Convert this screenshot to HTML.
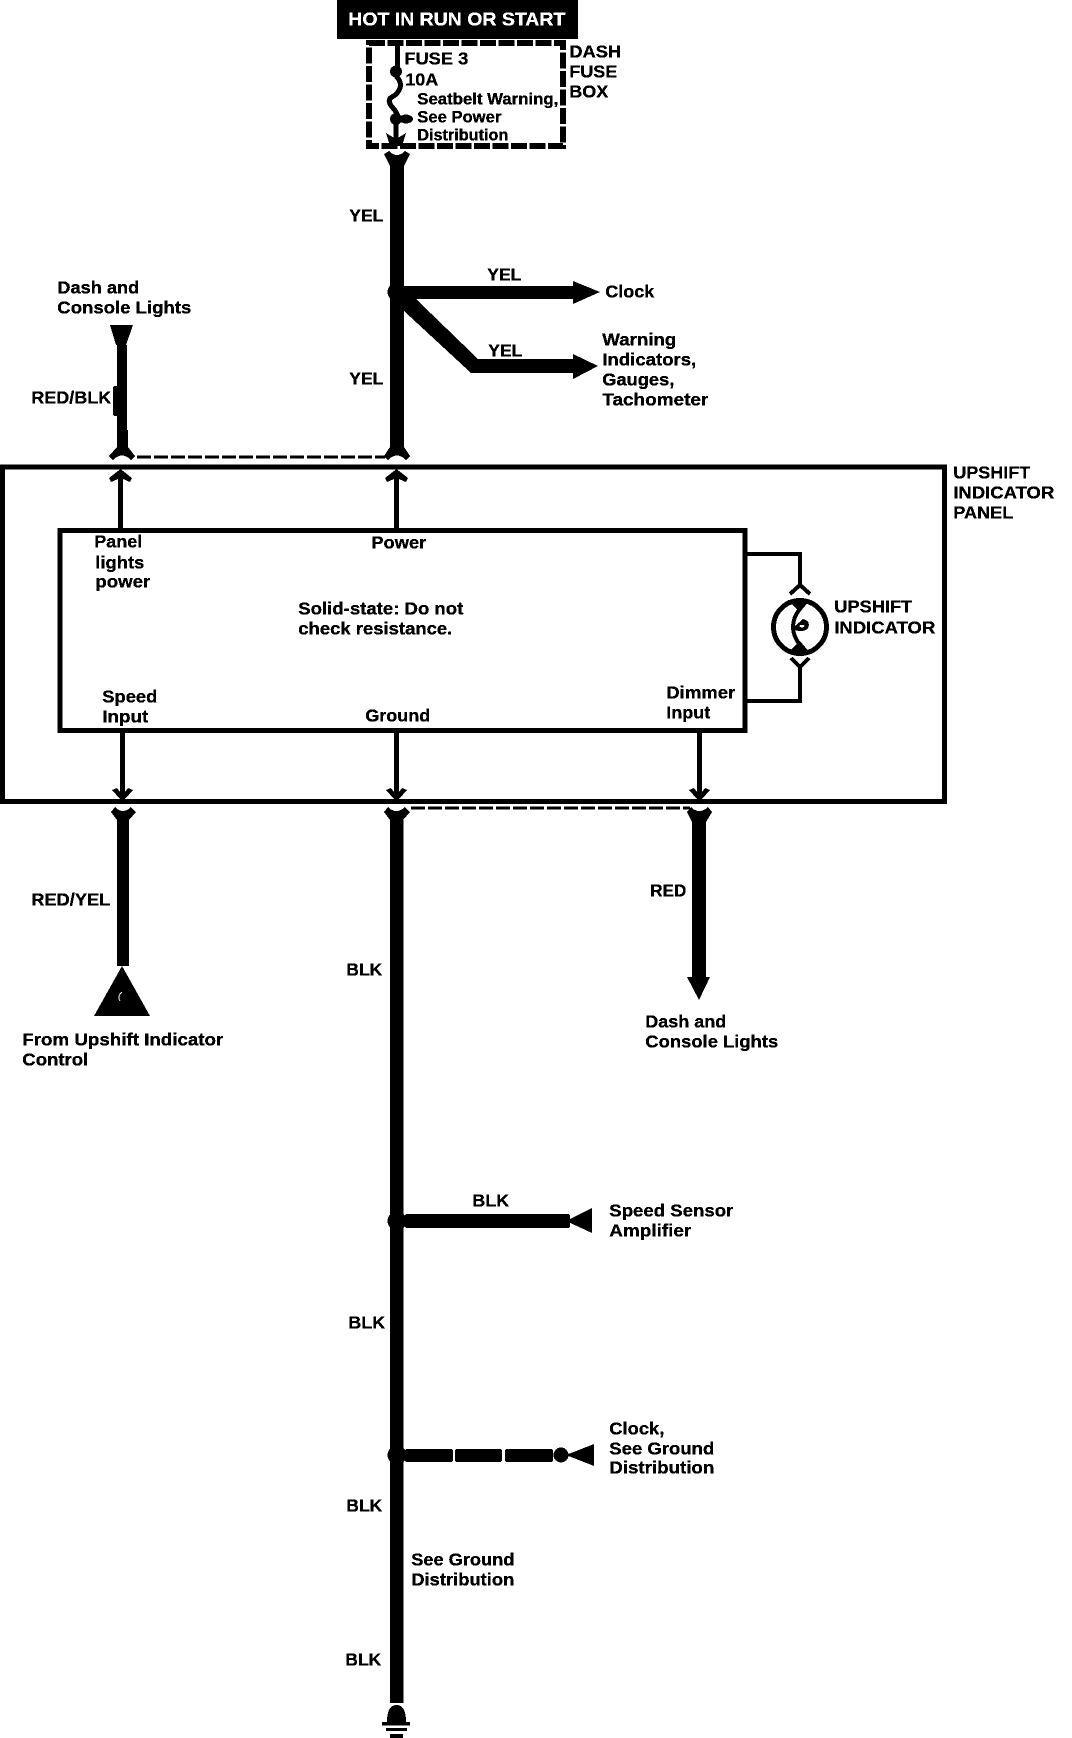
<!DOCTYPE html>
<html>
<head>
<meta charset="utf-8">
<style>
html,body{margin:0;padding:0;background:#fff;}
svg{display:block;}
text{font-family:"Liberation Sans",sans-serif;font-weight:bold;font-size:17.5px;fill:#000;stroke:#000;stroke-width:.25px;transform:translate(-.7px,-.7px);}
.s{font-size:16.5px;}
.w{fill:#fff;stroke:#fff;font-size:18px;}
</style>
</head>
<body>
<svg width="1072" height="1738" viewBox="0 0 1072 1738" xmlns="http://www.w3.org/2000/svg">
<defs>
<filter id="th" x="0" y="0" width="100%" height="100%" color-interpolation-filters="sRGB">
<feComponentTransfer>
<feFuncR type="discrete" tableValues="0 1"/>
<feFuncG type="discrete" tableValues="0 1"/>
<feFuncB type="discrete" tableValues="0 1"/>
</feComponentTransfer>
</filter>
</defs>
<g filter="url(#th)">
<rect width="1072" height="1738" fill="#fff"/>

<!-- header -->
<rect x="337" y="0" width="241" height="39" fill="#000"/>
<text class="w" x="349" y="26" textLength="217" lengthAdjust="spacingAndGlyphs">HOT IN RUN OR START</text>

<!-- fuse box -->
<rect x="369" y="43" width="194" height="103" fill="none" stroke="#000" stroke-width="6" stroke-dasharray="16 2.500"/>
<path d="M397.500 44V72" stroke="#000" stroke-width="5" fill="none"/>
<circle cx="396" cy="71.500" r="6"/>
<path d="M396 76Q402 82 400 88T392 97T393 108T396 118V146" stroke="#000" stroke-width="5" fill="none"/>
<circle cx="396" cy="119" r="6"/>
<ellipse cx="406" cy="119" rx="7" ry="4.500"/>
<path d="M386 133L396 139L406 133L402 146H390Z"/>
<text x="405" y="65" textLength="64" lengthAdjust="spacingAndGlyphs">FUSE 3</text>
<text x="406" y="86" textLength="33" lengthAdjust="spacingAndGlyphs">10A</text>
<text class="s" x="418" y="105" textLength="141" lengthAdjust="spacingAndGlyphs">Seatbelt Warning,</text>
<text class="s" x="418" y="123" textLength="84" lengthAdjust="spacingAndGlyphs">See Power</text>
<text class="s" x="418" y="141" textLength="91" lengthAdjust="spacingAndGlyphs">Distribution</text>
<text x="570" y="58" textLength="52" lengthAdjust="spacingAndGlyphs">DASH</text>
<text x="570" y="78" textLength="48" lengthAdjust="spacingAndGlyphs">FUSE</text>
<text x="570" y="98" textLength="39" lengthAdjust="spacingAndGlyphs">BOX</text>

<!-- main yellow wire -->
<rect x="390" y="160" width="14" height="290"/>
<path d="M384 154L389 151Q397 159 405 151L410 154L404 166H390Z"/>
<path d="M390 447H404L410 456L406 460Q397 451 388 460L384 456Z"/>
<circle cx="397" cy="292" r="9.500"/>
<rect x="400" y="286" width="175" height="13"/>
<path d="M573 281L600 292L573 304Z"/>
<path d="M404 298L415 298L478 359H575V373H471L404 311Z"/>
<path d="M573 354L598 366L573 379Z"/>
<text x="350" y="222" textLength="34" lengthAdjust="spacingAndGlyphs">YEL</text>
<text x="350" y="385" textLength="34" lengthAdjust="spacingAndGlyphs">YEL</text>
<text x="488" y="281" textLength="34" lengthAdjust="spacingAndGlyphs">YEL</text>
<text x="489" y="357" textLength="34" lengthAdjust="spacingAndGlyphs">YEL</text>
<text x="606" y="298" textLength="49" lengthAdjust="spacingAndGlyphs">Clock</text>
<text x="603" y="346" textLength="74" lengthAdjust="spacingAndGlyphs">Warning</text>
<text x="603" y="366" textLength="94" lengthAdjust="spacingAndGlyphs">Indicators,</text>
<text x="603" y="386" textLength="72" lengthAdjust="spacingAndGlyphs">Gauges,</text>
<text x="603" y="406" textLength="106" lengthAdjust="spacingAndGlyphs">Tachometer</text>

<!-- left top wire -->
<path d="M110 325H133L126 345H124V348H117V345H116Z"/>
<rect x="117" y="345" width="10" height="105"/>
<rect x="113" y="386" width="6" height="30" rx="2"/>
<rect x="117" y="430" width="11" height="20"/>
<path d="M117 447H128L135 456L131 460Q122 451 113 460L109 456Z"/>
<text x="58" y="294" textLength="82" lengthAdjust="spacingAndGlyphs">Dash and</text>
<text x="58" y="314" textLength="134" lengthAdjust="spacingAndGlyphs">Console Lights</text>
<text x="32" y="404" textLength="80" lengthAdjust="spacingAndGlyphs">RED/BLK</text>
<path d="M137 457H385" stroke="#000" stroke-width="3" stroke-dasharray="14 3" fill="none"/>

<!-- outer panel -->
<rect x="2.500" y="467" width="942" height="334.500" fill="none" stroke="#000" stroke-width="5"/>
<text x="954" y="479" textLength="77" lengthAdjust="spacingAndGlyphs">UPSHIFT</text>
<text x="954" y="499" textLength="101" lengthAdjust="spacingAndGlyphs">INDICATOR</text>
<text x="954" y="519" textLength="60" lengthAdjust="spacingAndGlyphs">PANEL</text>

<!-- inner box -->
<rect x="60" y="530.500" width="685" height="200" fill="none" stroke="#000" stroke-width="5"/>

<!-- power/panel thin wires -->
<rect x="118" y="474" width="5" height="56"/>
<rect x="394" y="474" width="5" height="56"/>
<path d="M120.500 469L132 478L130 482L123 479H118L111 482L109 478Z"/>
<path d="M396.500 469L408 478L406 482L399 479H394L387 482L385 478Z"/>
<text x="95" y="548" textLength="48" lengthAdjust="spacingAndGlyphs">Panel</text>
<text x="96" y="569" textLength="49" lengthAdjust="spacingAndGlyphs">lights</text>
<text x="96" y="588" textLength="55" lengthAdjust="spacingAndGlyphs">power</text>
<text x="372" y="549" textLength="55" lengthAdjust="spacingAndGlyphs">Power</text>
<text x="299" y="615" textLength="165" lengthAdjust="spacingAndGlyphs">Solid-state: Do not</text>
<text x="299" y="635" textLength="154" lengthAdjust="spacingAndGlyphs">check resistance.</text>
<text x="103" y="703" textLength="55" lengthAdjust="spacingAndGlyphs">Speed</text>
<text x="103" y="723" textLength="46" lengthAdjust="spacingAndGlyphs">Input</text>
<text x="366" y="722" textLength="65" lengthAdjust="spacingAndGlyphs">Ground</text>
<text x="667" y="699" textLength="69" lengthAdjust="spacingAndGlyphs">Dimmer</text>
<text x="667" y="719" textLength="44" lengthAdjust="spacingAndGlyphs">Input</text>

<!-- indicator -->
<path d="M745 554H800V587M745 701H800V667" fill="none" stroke="#000" stroke-width="4"/>
<path d="M790 594L800 585L810 594M791 658L800 667L809 658" fill="none" stroke="#000" stroke-width="4"/>
<circle cx="800" cy="627" r="26.500" fill="none" stroke="#000" stroke-width="5"/>
<path d="M799 600V610Q793 618 793 627Q793 636 800 645V654" fill="none" stroke="#000" stroke-width="4"/>
<path d="M788 600L810 600L800 612Z"/>
<path d="M788 653L810 653L800 641Z"/>
<path d="M795 626L803 619Q811 621 808 628Q804 633 795 630Z" fill="#000"/>
<ellipse cx="802" cy="626" rx="2.500" ry="1.300" fill="#fff"/>
<text x="835" y="613" textLength="78" lengthAdjust="spacingAndGlyphs">UPSHIFT</text>
<text x="835" y="634" textLength="101" lengthAdjust="spacingAndGlyphs">INDICATOR</text>

<!-- lower thin wires -->
<rect x="120" y="732" width="5" height="64"/>
<rect x="394" y="732" width="5" height="64"/>
<rect x="697" y="732" width="5" height="64"/>
<path d="M112 790L117 788L120 792H125L128 788L133 790L125 799H120Z"/>
<path d="M386 790L391 788L394 792H399L402 788L407 790L399 799H394Z"/>
<path d="M689 790L694 788L697 792H702L705 788L710 790L702 799H697Z"/>

<!-- speed lower -->
<path d="M111 812L115 807Q123 815 131 807L136 812L129 820H117Z"/>
<rect x="117" y="818" width="12" height="148"/>
<path d="M122 966L150 1016H94Z"/>
<path d="M122 992Q117 996 120 1001" fill="none" stroke="#fff" stroke-width="1"/>
<text x="32" y="906" textLength="79" lengthAdjust="spacingAndGlyphs">RED/YEL</text>
<text x="23" y="1046" textLength="201" lengthAdjust="spacingAndGlyphs">From Upshift Indicator</text>
<text x="23" y="1066" textLength="66" lengthAdjust="spacingAndGlyphs">Control</text>

<!-- main black wire -->
<path d="M384 812L388 807Q396 815 405 807L410 812L403 820H390Z"/>
<rect x="390" y="818" width="13.500" height="885"/>
<path d="M411 808H690" stroke="#000" stroke-width="3" stroke-dasharray="14 3" fill="none"/>
<text x="347" y="976" textLength="36" lengthAdjust="spacingAndGlyphs">BLK</text>
<text x="349" y="1329" textLength="37" lengthAdjust="spacingAndGlyphs">BLK</text>
<text x="347" y="1512" textLength="36" lengthAdjust="spacingAndGlyphs">BLK</text>
<text x="346" y="1666" textLength="36" lengthAdjust="spacingAndGlyphs">BLK</text>

<!-- red -->
<path d="M687 812L691 807Q699 815 708 807L712 812L706 822H692Z"/>
<rect x="692" y="820" width="14" height="158"/>
<path d="M687 977H710L699 1000Z"/>
<text x="651" y="897" textLength="36" lengthAdjust="spacingAndGlyphs">RED</text>
<text x="646" y="1028" textLength="81" lengthAdjust="spacingAndGlyphs">Dash and</text>
<text x="646" y="1048" textLength="133" lengthAdjust="spacingAndGlyphs">Console Lights</text>

<!-- speed sensor branch -->
<circle cx="397" cy="1221" r="9.500"/>
<rect x="405" y="1214" width="165" height="14" rx="2"/>
<path d="M566 1221L592 1208V1233Z"/>
<text x="473" y="1207" textLength="37" lengthAdjust="spacingAndGlyphs">BLK</text>
<text x="610" y="1217" textLength="124" lengthAdjust="spacingAndGlyphs">Speed Sensor</text>
<text x="610" y="1237" textLength="82" lengthAdjust="spacingAndGlyphs">Amplifier</text>

<!-- clock ground branch -->
<circle cx="397" cy="1455" r="9.500"/>
<rect x="405" y="1449" width="48" height="13" rx="2"/>
<rect x="455" y="1449" width="47" height="13" rx="2"/>
<rect x="505" y="1449" width="48" height="13" rx="2"/>
<circle cx="561" cy="1455" r="7.500"/>
<path d="M566 1455L594 1444V1466Z"/>
<text x="610" y="1435" textLength="55" lengthAdjust="spacingAndGlyphs">Clock,</text>
<text x="610" y="1455" textLength="105" lengthAdjust="spacingAndGlyphs">See Ground</text>
<text x="610" y="1474" textLength="105" lengthAdjust="spacingAndGlyphs">Distribution</text>

<text x="412" y="1566" textLength="103" lengthAdjust="spacingAndGlyphs">See Ground</text>
<text x="412" y="1586" textLength="103" lengthAdjust="spacingAndGlyphs">Distribution</text>

<!-- ground symbol -->
<path d="M387 1722Q387 1705 396.500 1705Q406 1705 406 1722Z"/>
<rect x="382" y="1722" width="28" height="3.500"/>
<rect x="386" y="1728" width="21" height="3"/>
<rect x="390" y="1734" width="13" height="4"/>
</g>
</svg>
</body>
</html>
